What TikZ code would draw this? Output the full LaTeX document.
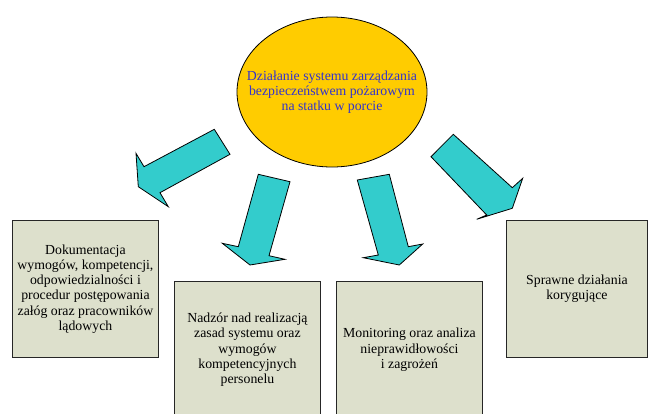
\documentclass[tikz,border=0pt]{standalone}
\usepackage{fontspec}
\setmainfont{Liberation Serif}
\newfontfamily\timesfont{Liberation Serif}
\usepackage{tikz}
\usetikzlibrary{positioning,calc}
\definecolor{hubfill}{RGB}{255,204,0}
\definecolor{hubtext}{RGB}{51,51,204}
\definecolor{boxfill}{RGB}{221,224,204}
\definecolor{arrowfill}{RGB}{51,204,204}
\tikzset{
  box/.style={draw=black!85, fill=boxfill, line width=0.9pt, anchor=north west,
    align=center, inner sep=0pt, font=\timesfont\fontsize{13.8}{15.3}\selectfont},
  blockarrow/.style={draw=black, fill=arrowfill, line width=0.8pt, line join=miter}
}

\begin{document}
\begin{tikzpicture}[x=1pt,y=-1pt]
  \useasboundingbox (0,0) rectangle (648,413);
  % central ellipse
  \draw[fill=hubfill, line width=0.8pt] (332,92) ellipse (95 and 75);
  \node[align=center, text=hubtext, font=\timesfont\fontsize{13.8}{15.3}\selectfont] (hub) at (332,92)
    {Działanie systemu zarządzania\\bezpieczeństwem pożarowym\\na statku w porcie};
  % boxes
  \node[box, minimum width=146, minimum height=137] (doc) at (12,220)
    {Dokumentacja\\wymogów, kompetencji,\\odpowiedzialności i\\procedur postępowania\\załóg oraz pracowników\\lądowych};
  \node[box, minimum width=146, minimum height=137] (nadzor) at (174,281)
    {Nadzór nad realizacją\\zasad systemu oraz\\wymogów\\kompetencyjnych\\personelu};
  \node[box, minimum width=146, minimum height=137] (monit) at (336,281)
    {Monitoring oraz analiza\\nieprawidłowości\\i zagrożeń};
  \node[box, minimum width=141, minimum height=137] (korekta) at (506,220)
    {Sprawne działania\\korygujące};
  % block arrows
  \draw[blockarrow] (214.3,129.3) -- (230,154.3) -- (160,192.7) -- (168.3,206.7)
    -- (138.3,186.7) -- (136,153.3) -- (144,166.7) -- cycle;
  \draw[blockarrow] (258.3,174.3) -- (290,181.7) -- (269,255.7) -- (285,259.3)
    -- (250,265) -- (222.3,243.3) -- (238.3,246.7) -- cycle;
  \draw[blockarrow] (357.3,180) -- (389.3,174.3) -- (408.3,246.7) -- (422.7,244)
    -- (399.3,265) -- (363.3,257.7) -- (378.3,255) -- cycle;
  \draw[blockarrow] (453.3,134.3) -- (431,156.7) -- (486.7,215) -- (476.7,219.3)
    -- (512.3,208.3) -- (522.7,178.3) -- (512.3,187.7) -- cycle;
\end{tikzpicture}
\end{document}
